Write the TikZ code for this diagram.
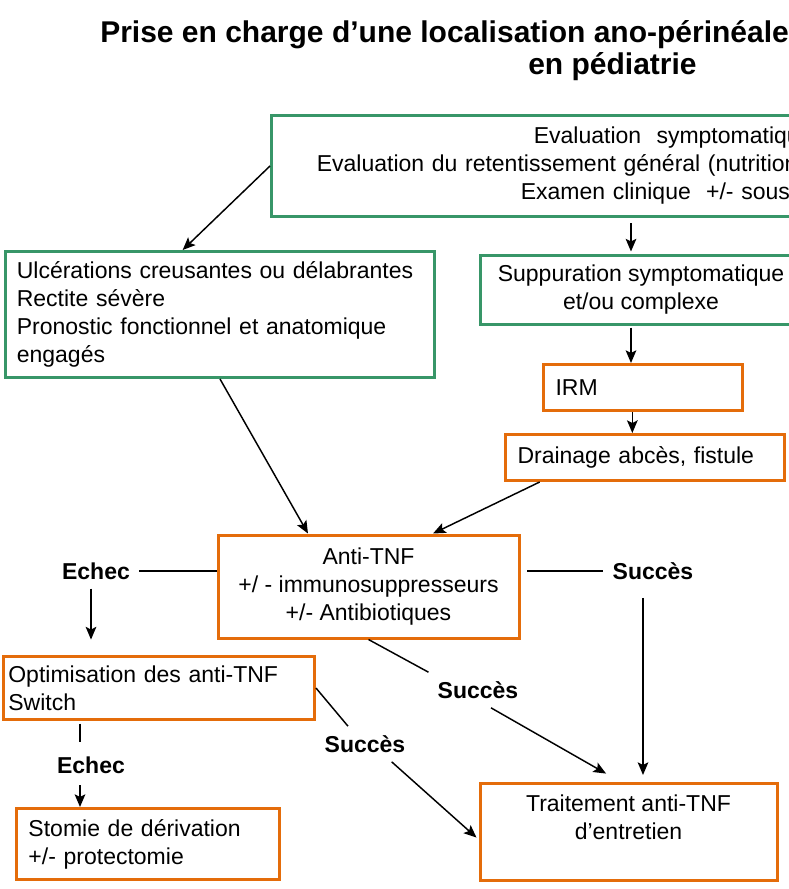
\documentclass[tikz,border=0pt]{standalone}
\usepackage{fontspec}
\setmainfont{Liberation Sans}
\usetikzlibrary{arrows.meta}

\begin{document}
\begin{tikzpicture}[x=0.75pt,y=0.75pt,yscale=-1,xscale=1,
		txt/.style={font=\fontsize{17.25}{21}\selectfont},
		lbl/.style={font=\fontsize{17.25}{21}\selectfont\bfseries, inner sep=6.75pt},
		greenbox/.style={draw={rgb, 255:red, 56; green, 150; blue, 104 }, line width=2.25pt, inner ysep=2pt, txt},
		orangebox/.style={draw={rgb, 255:red, 228; green, 108; blue, 10 }, line width=2.25pt, inner ysep=2pt, txt},
		lin/.style={line width=1.1pt},
		arr/.style={line width=1.1pt, -{Stealth[length=9.5pt,width=8pt,inset=2pt]}}]
		\useasboundingbox (0,0) rectangle (789,889);
		\clip (0,0) rectangle (789,889);
		
		% Text Node
		\draw (100,42) node [anchor=base west][inner sep=0pt][font=\fontsize{22.5}{24}\selectfont\bfseries] (title) {Prise en charge d’une localisation ano-périnéale};
		% Text Node
		\draw (612.5,74) node [anchor=base][inner sep=0pt][font=\fontsize{22.5}{24}\selectfont\bfseries] (subtitle) {en pédiatrie};
		
		%Shape: Rectangle
		\draw (270,114) node [anchor=north west][greenbox][inner xsep=34pt, text width=600pt, minimum height=75.75pt, align=left] (eval) {\hspace*{162.75pt}Evaluation~~symptomatique\\Evaluation du retentissement général (nutrition\\\hspace*{153pt}Examen clinique~~+/- sous};
		%Shape: Rectangle
		\draw (4,250) node [anchor=north west][greenbox][inner xsep=8.5pt, text width=304.75pt, minimum height=94.5pt, align=left] (ulc) {Ulcérations creusantes ou délabrantes\\Rectite sévère\\Pronostic fonctionnel et anatomique\\engagés};
		%Shape: Rectangle
		\draw (641,289.5) node [greenbox][minimum width=241.5pt, minimum height=51.75pt, align=center] (supp) {Suppuration symptomatique\\et/ou complexe};
		%Shape: Rectangle
		\draw (542,363) node [anchor=north west][orangebox][inner xsep=9pt, text width=131.25pt, minimum height=34.5pt, align=left] (irm) {IRM};
		%Shape: Rectangle
		\draw (504,433) node [anchor=north west][orangebox][inner xsep=9pt, text width=191.25pt, minimum height=34.5pt, align=left] (drain) {Drainage abcès, fistule};
		%Shape: Rectangle
		\draw (368.5,586.5) node [orangebox][minimum width=225.75pt, minimum height=77.25pt, align=center] (anti) {Anti-TNF\\+/ - immunosuppresseurs\\+/- Antibiotiques};
		%Shape: Rectangle
		\draw (1.5,655) node [anchor=north west][orangebox][inner xsep=4pt, text width=225.6pt, minimum height=47.25pt, align=left] (optim) {Optimisation des anti-TNF\\Switch};
		%Shape: Rectangle
		\draw (15,807) node [anchor=north west][orangebox][inner xsep=9pt, text width=179.25pt, minimum height=53.25pt, align=left] (stomie) {Stomie de dérivation\\+/- protectomie};
		%Shape: Rectangle
		\draw (628.5,831.5) node [orangebox][minimum width=222.75pt, minimum height=72.75pt, align=center] (trait) {Traitement anti-TNF\\d’entretien\\~};
		
		% Text Node
		\draw (96,571) node [lbl] (echecA) {Echec};
		% Text Node
		\draw (653,571) node [lbl] (succA) {Succès};
		% Text Node
		\draw (478,690) node [lbl] (succB) {Succès};
		% Text Node
		\draw (365,744) node [lbl] (succC) {Succès};
		% Text Node
		\draw (91,765) node [lbl] (echecB) {Echec};
		
		%Straight Lines
		\draw [arr] (eval.west) -- ([xshift=-28pt]ulc.north);
		\draw [arr, shorten <=3.75pt, shorten >=1.5pt] ([xshift=-7.5pt]supp.north |- eval.south) -- ([xshift=-7.5pt]supp.north);
		\draw [arr, shorten <=1.5pt] ([xshift=-7.5pt]supp.south) -- ([xshift=-7.5pt]supp.south |- irm.north);
		\draw [arr] ([xshift=-8pt]irm.south) -- ([xshift=-8pt]irm.south |- drain.north);
		\draw [arr] (ulc.south) -- ([xshift=-45.4pt]anti.north);
		\draw [arr] ([xshift=-79pt]drain.south) -- ([xshift=48.4pt]anti.north);
		%Straight Lines
		\draw [lin] (anti.west |- echecA) -- (echecA.east);
		\draw [arr, shorten >=11.6pt] ([xshift=-3.75pt]echecA.south) -- ([xshift=-3.75pt]echecA.south |- optim.north);
		\draw [lin, shorten <=4.9pt] (anti.east |- succA) -- (succA.west);
		\draw [arr, shorten <=6.75pt, shorten >=4.9pt] ([xshift=-7.5pt]succA.south) -- ([xshift=-7.5pt]succA.south |- trait.north);
		\draw [lin] (anti.south) -- (succB.north west);
		\draw [arr, shorten >=12pt] ([xshift=9.75pt]succB.south) -- ([xshift=-6.4pt]trait.north);
		\draw [lin] (optim.east) -- ([xshift=-12.75pt]succC.north);
		\draw [arr, shorten >=2pt] ([xshift=20pt]succC.south) -- (trait.183);
		\draw [lin, shorten <=2pt, shorten >=4pt] ([xshift=-8.25pt]echecB.north |- optim.south) -- ([xshift=-8.25pt]echecB.north);
		\draw [arr, shorten <=2pt] ([xshift=-8.25pt]echecB.south) -- ([xshift=-8.25pt]echecB.south |- stomie.north);
	\end{tikzpicture}
\end{document}
